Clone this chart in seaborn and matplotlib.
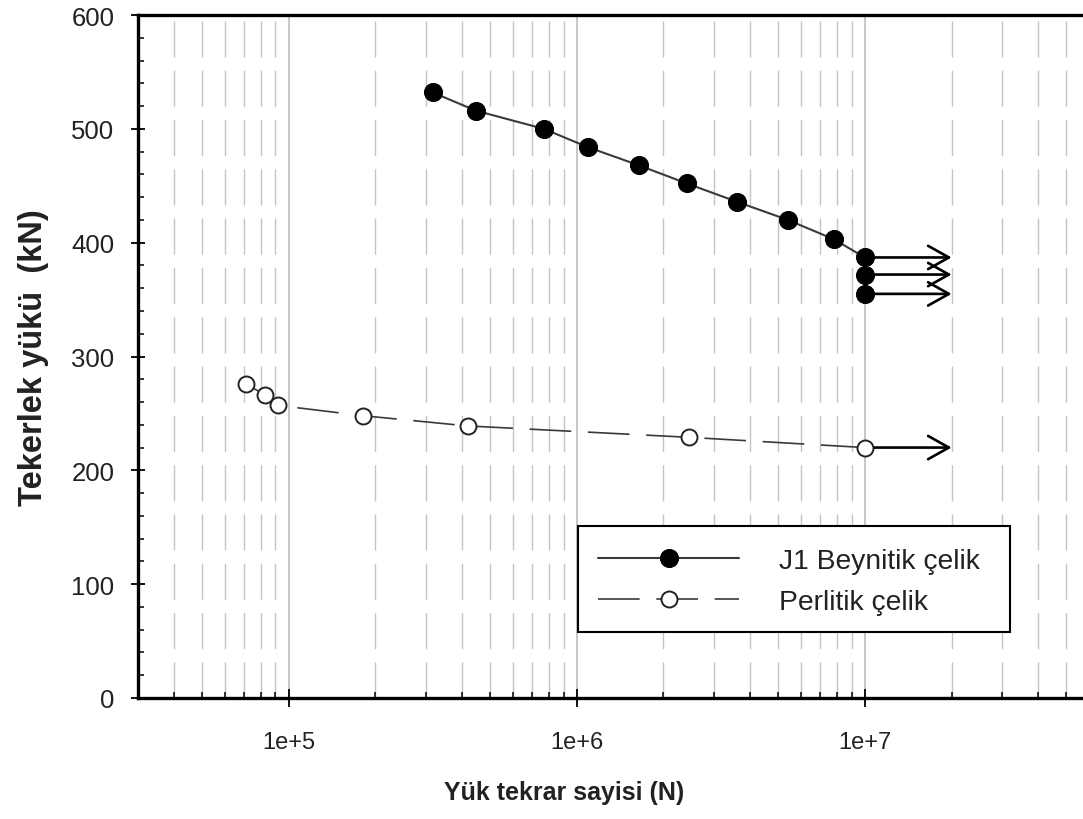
import numpy as np
import pandas as pd
import matplotlib
matplotlib.use("Agg")
import matplotlib.pyplot as plt
import matplotlib.ticker as mticker
import matplotlib.patches as mpatches
import seaborn as sns

# ---- data ----
j1_cycles = [3.16e5, 4.46e5, 7.68e5, 1.09e6, 1.64e6, 2.41e6, 3.59e6, 5.4e6, 7.8e6, 1.0e7, 1.0e7, 1.0e7]
j1_load = [532, 516, 500, 484, 468, 452, 436, 420, 403, 387, 372, 355]
perl_cycles = [7.1e4, 8.3e4, 9.2e4, 1.81e5, 4.18e5, 2.45e6, 1.0e7]
perl_load = [276, 266, 257, 248, 239, 229, 220]
runout_start = 1.0e7
runout_end = 2.0e7
runout_loads = [387, 372, 355, 220]
series_labels = ["J1 Beynitik çelik", "Perlitik çelik"]
xtick_values = [1e5, 1e6, 1e7]
xtick_labels = ["1e+5", "1e+6", "1e+7"]
ytick_values = [0, 100, 200, 300, 400, 500, 600]
x_label = "Yük tekrar sayisi (N)"
y_label = "Tekerlek yükü  (kN)"

sns.set_theme(style="white")
plt.rcParams['font.family'] = ['Liberation Sans', 'DejaVu Sans']

W, H = 1083, 820
fig = plt.figure(figsize=(W / 100, H / 100), dpi=100)
ax = fig.add_axes([138 / W, 121 / H, 1015 / W, 683 / H])
ax.set_xscale("log")
ax.set_xlim(3e4, 1e8)
ax.set_ylim(0, 600)

df_j1 = pd.DataFrame({"N": j1_cycles, "P": j1_load})
df_pe = pd.DataFrame({"N": perl_cycles, "P": perl_load})

sns.lineplot(data=df_j1, x="N", y="P", ax=ax, estimator=None, sort=False,
             color="#3a3a3a", lw=1.5, marker="o", markersize=13,
             markerfacecolor="black", markeredgecolor="black",
             label=series_labels[0], zorder=5)
sns.lineplot(data=df_pe, x="N", y="P", ax=ax, estimator=None, sort=False,
             color="#3a3a3a", lw=1.2, marker="o", markersize=11.5,
             markerfacecolor="white", markeredgecolor="#222222", markeredgewidth=1.4,
             label=series_labels[1], zorder=5)
ax.lines[-1].set_linestyle((0, (25, 10)))
ax.lines[-1].set_dash_capstyle("butt")

for yv in runout_loads:
    ax.annotate("", xy=(runout_end, yv), xytext=(runout_start, yv),
                arrowprops=dict(arrowstyle="->,head_length=1.25,head_width=0.7",
                                lw=1.9, color="black", shrinkA=0, shrinkB=0),
                zorder=4)

# ticks and grid
ax.xaxis.set_major_locator(mticker.FixedLocator(xtick_values))
ax.xaxis.set_major_formatter(mticker.FixedFormatter(xtick_labels))
ax.xaxis.set_minor_locator(mticker.LogLocator(base=10, subs=np.arange(2, 10)))
ax.xaxis.set_minor_formatter(mticker.NullFormatter())
ax.yaxis.set_major_locator(mticker.FixedLocator(ytick_values))
ax.yaxis.set_minor_locator(mticker.MultipleLocator(20))

ax.grid(False)
ax.grid(which="minor", axis="x", color="#c4c4c4", lw=1.0, ls=(0, (26, 9.5)))
ax.grid(which="major", axis="x", color="#bdbdbd", lw=1.2, ls="-")
ax.set_axisbelow(True)

for s in ["left", "bottom", "top"]:
    ax.spines[s].set_color("black")
    ax.spines[s].set_linewidth(2.4)
ax.spines["right"].set_visible(False)

ax.tick_params(axis="y", which="major", direction="inout", length=10, width=1.3,
               color="black", labelsize=18.5, pad=12, left=True)
ax.tick_params(axis="y", which="minor", direction="in", length=4.5, width=1.1,
               color="black", left=True)
ax.tick_params(axis="x", which="major", direction="inout", length=13, width=1.3,
               color="black", labelsize=17, pad=17, bottom=True)
ax.tick_params(axis="x", which="minor", direction="in", length=4, width=1.1,
               color="black", bottom=True)
for lab in ax.get_xticklabels() + ax.get_yticklabels():
    lab.set_color("#222222")

ax.set_xlabel(x_label, fontsize=18, fontweight="bold", color="#222222")
ax.set_ylabel(y_label, fontsize=23.5, fontweight="bold", labelpad=16, color="#222222")
ax.xaxis.set_label_coords((564 - 138) / 1015, -(781 - 699) / 683)

# legend frame drawn as a plain rectangle
frame = mpatches.Rectangle((578 / W, 1 - 633 / H), (1010 - 578) / W, (633 - 527) / H,
                           transform=fig.transFigure, facecolor="white",
                           edgecolor="black", lw=1.5, zorder=8)
ax.add_patch(frame)
frame.set_clip_on(False)

leg = ax.legend(loc="upper left", bbox_to_anchor=(578 / W, 1 - 529 / H),
                bbox_transform=fig.transFigure, borderaxespad=0,
                fontsize=20.3, handlelength=5.0, handletextpad=1.4,
                labelspacing=0.52, borderpad=0.72, frameon=False)
leg.set_zorder(9)
for t in leg.get_texts():
    t.set_color("#222222")

fig.savefig("out.png", dpi=100)
